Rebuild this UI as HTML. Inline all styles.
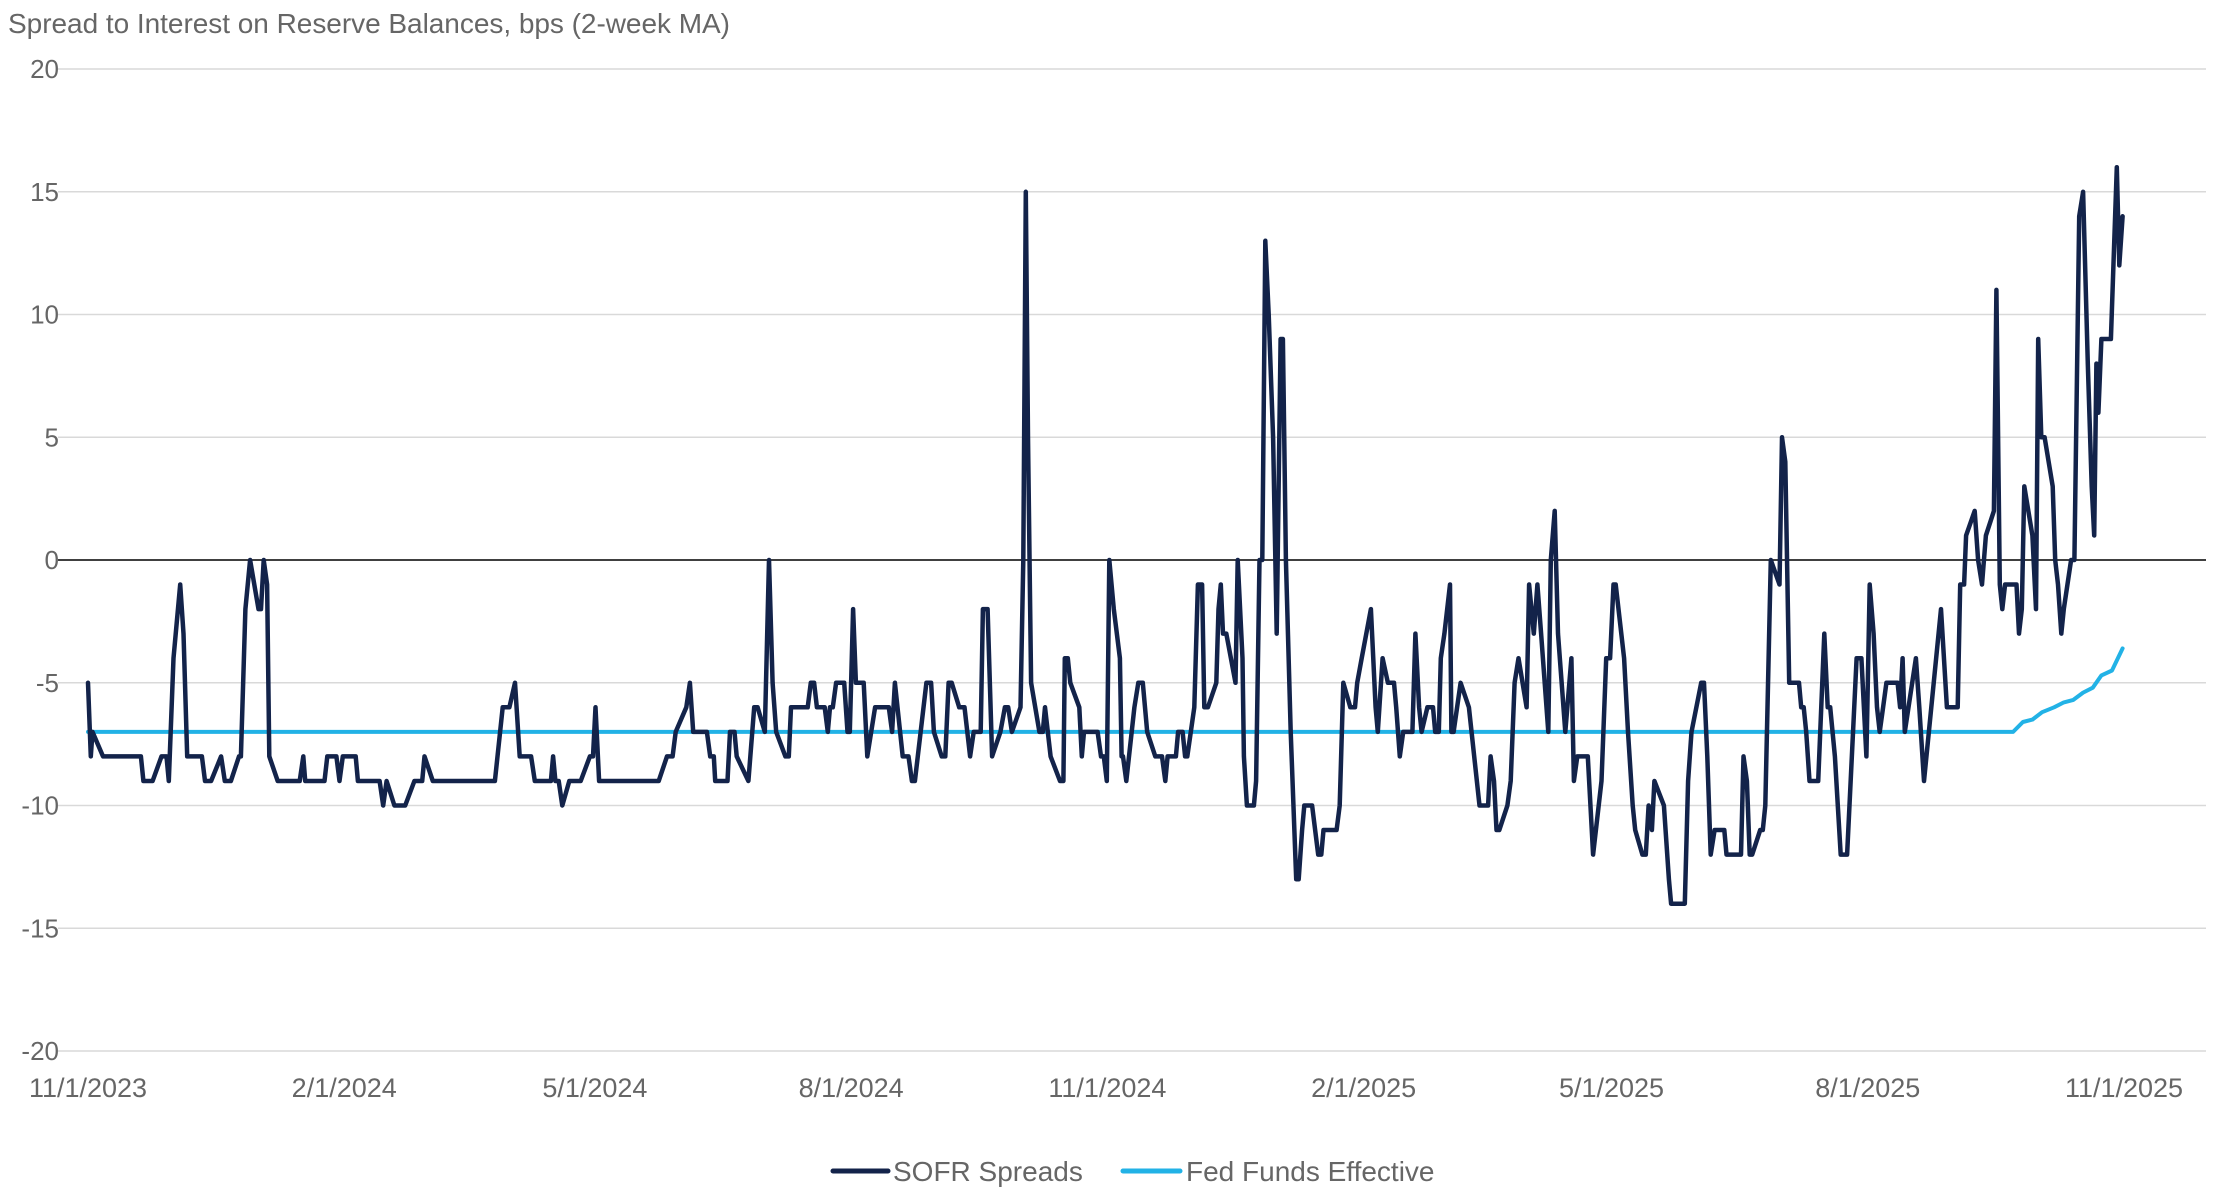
<!DOCTYPE html>
<html><head><meta charset="utf-8"><style>
html,body{margin:0;padding:0;background:#fff;}
body{width:2217px;height:1196px;overflow:hidden;font-family:"Liberation Sans",sans-serif;}
svg text{font-family:"Liberation Sans",sans-serif;fill:#666;}
</style></head><body>
<svg id="chart" width="2217" height="1196" viewBox="0 0 2217 1196" xmlns="http://www.w3.org/2000/svg">
<text x="8" y="33" font-size="28" textLength="722">Spread to Interest on Reserve Balances, bps (2-week MA)</text>
<g id="grid"></g>
<g id="yticks"></g>
<g id="xticks"></g>
<g id="series"></g>
<g>
<g>
<line x1="833" y1="1171" x2="888" y2="1171" stroke="#13234a" stroke-width="5" stroke-linecap="round"/>
<text x="893" y="1181" font-size="28">SOFR Spreads</text></g>
<g>
<line x1="1123" y1="1171" x2="1180" y2="1171" stroke="#22b2e6" stroke-width="5" stroke-linecap="round"/>
<text x="1186" y="1181" font-size="28">Fed Funds Effective</text></g>
</g>
</svg>
<script>
// Data (days since 2023-11-01, bps)
const yTicks = [20,15,10,5,0,-5,-10,-15,-20];
const xTickLabels = ["11/1/2023","2/1/2024","5/1/2024","8/1/2024","11/1/2024","2/1/2025","5/1/2025","8/1/2025","11/1/2025"];
const xTickDays = [0,92,182,274,366,458,547,639,731];
const sofrDays = [0,1,1.6,5.4,19,19.9,23.2,26.4,28.2,29,30.7,33.1,34.3,35.6,40.9,42,44.2,47.8,49.1,51.3,54.2,54.9,56.5,58.2,61.2,62.1,63.1,64.3,65.1,68.1,76,77.3,78,84.9,85.9,89.2,90.3,91.5,96.1,96.9,104.7,106,107.2,110,113.9,117.2,120,120.8,123.8,146.1,148.9,151.3,153.3,155,159.1,160.4,166.2,167,167.8,169,170.3,172.8,176.9,180.2,181.3,182.2,183.5,204.9,207.9,209.9,211,214.8,216.1,217.3,222.2,223.4,224.7,225.2,229.6,230.5,232.1,232.9,237.1,239.2,240.4,
243,244.5,245.8,247.1,250.4,251.6,252.4,258.4,259.5,260.7,261.7,264.5,265.6,266.4,267.4,268.6,271.5,272.7,273.5,274.7,275.7,278.5,279.8,282.6,287.5,288.7,289.7,292.5,294.6,295.8,296.9,301,302.7,303.7,306.5,307.8,309,310.1,312.8,314.7,316.7,318,320.5,321.3,323,324.6,327.6,329.2,330.4,331.7,334.8,335.8,336.7,337.5,338.6,341.6,342.8,343.6,345.6,349,350.2,350.7,351.8,352.7,355.9,356.8,357.6,362.5,363.7,364.7,365.8,366.7,368.3,370.5,371.1,371.6,372.8,375.7,377.1,378.7,380.3,383.2,385.6,386.8,387.6,390.6,391.4,393,393.9,394.7,397.2,398.5,400,400.8,402.1,405.1,405.9,406.7,407.5,408.7,412,412.8,414.5,415,416.1,418.6,419.4,420.6,421.6,422.7,423.9,425.5,426.8,428.2,429,430.1,431.8,433.8,434.7,435.9,436.7,439.5,441.7,442.8,443.6,448.3,449.4,450.7,453.2,454.9,455.7,457.3,460.6,462.3,463.1,464.8,466.7,468.9,469.7,471,472.2,475.5,476.6,477.9,478.8,480.9,482.9,483.7,485,485.7,487,489,489.5,490.3,492.8,
495.8,499.6,502.7,503.6,504.8,505.7,506.7,509.6,510.8,512.2,513.6,516.5,517.4,519.1,520.4,521.7,524.3,525.2,526.6,527.8,530.4,532.6,533.5,534.7,538.5,540.4,543.4,545.1,546.5,547.7,548.5,551.5,552.9,554.6,555.5,558.1,559.3,560.3,561.5,562.4,565.8,567.6,568.4,573.3,574.5,575.7,579.2,580.2,581.4,582.6,584,587.5,588.3,593.5,594.4,595.6,596.6,597.5,600.4,601.3,602.2,604.2,607.3,608.2,609.4,610.8,614.3,615.1,616,616.9,618.1,621.2,623.4,624.6,625.5,627.2,629.3,631.6,635,636.7,638.5,639.7,641.1,642.3,643.3,644.5,645.7,649.7,650.6,651.5,652.3,656.3,657.5,659.2,661.8,665.3,667.4,671.3,672.2,673.6,674.3,677.4,678.6,680,681.4,684.3,685.2,686.4,687.3,688.3,692.4,693.3,694.3,695.2,698.1,699.4,700.2,701.3,702.5,705.4,706.3,707.3,708.5,709.4,712,713.2,714.9,716.3,718,719.4,720.3,721.1,721.8,722.9,726.3,728.4,729.3,730.5];
const sofrValues = [-5,-8,-7,-8,-8,-9,-9,-8,-8,-9,-4,-1,-3,-8,-8,-9,-9,-8,-9,-9,-8,-8,-2,0,-2,-2,0,-1,-8,-9,-9,-8,-9,-9,-8,-8,-9,-8,-8,-9,-9,-10,-9,-10,-10,-9,-9,-8,-9,-9,-6,-6,-5,-8,-8,-9,-9,-8,-9,-9,-10,-9,-9,-8,-8,-6,-9,-9,-8,-8,-7,-6,-5,-7,-7,-8,-8,-9,-9,-7,-7,-8,-9,-6,-6,
-7,0,-5,-7,-8,-8,-6,-6,-5,-5,-6,-6,-7,-6,-6,-5,-5,-7,-7,-2,-5,-5,-8,-6,-6,-7,-5,-8,-8,-9,-9,-5,-5,-7,-8,-8,-5,-5,-6,-6,-8,-7,-7,-2,-2,-8,-7,-6,-6,-7,-6,0,15,5,-5,-7,-7,-6,-8,-9,-9,-4,-4,-5,-6,-8,-7,-7,-8,-8,-9,0,-2,-4,-8,-8,-9,-6,-5,-5,-7,-8,-8,-9,-8,-8,-7,-7,-8,-8,-6,-1,-1,-6,-6,-5,-2,-1,-3,-3,-5,0,-4,-8,-10,-10,-9,0,0,13,10,5,-3,9,9,0,-7,-13,-13,-11,-10,-10,-12,-12,-11,-11,-10,-5,-6,-6,-5,-4,-2,-6,-7,-4,-5,-5,-6,-8,-7,-7,-3,-6,-7,-6,-6,-7,-7,-4,-3,-1,-7,-7,-5,
-6,-10,-10,-8,-9,-11,-11,-10,-9,-5,-4,-6,-1,-3,-1,-3,-7,0,2,-3,-7,-4,-9,-8,-8,-12,-9,-4,-4,-1,-1,-4,-7,-10,-11,-12,-12,-10,-11,-9,-10,-13,-14,-14,-9,-7,-5,-5,-8,-12,-11,-11,-12,-12,-8,-9,-12,-12,-11,-11,-10,0,-1,5,4,-5,-5,-6,-6,-7,-9,-9,-3,-6,-6,-8,-12,-12,-4,-4,-8,-1,-3,-6,-7,-6,-5,-5,-6,-4,-7,-4,-6,-9,-6,-2,-6,-6,-1,-1,1,2,0,-1,1,2,11,-1,-2,-1,-1,-3,-2,3,1,-2,9,5,5,3,0,-1,-3,-2,0,0,14,15,8,3,1,8,6,9,9,16,12,14];
const fedDays = [0,691.2,694.7,698.1,701.6,705.9,709.4,712.8,716.3,719.8,722.9,726.7,730.5];
const fedValues = [-7,-7,-6.6,-6.5,-6.2,-6.0,-5.8,-5.7,-5.4,-5.2,-4.7,-4.5,-3.6];

const NS="http://www.w3.org/2000/svg";
const X0=88, X1=2124, DMAX=731, Y0=560, PERUNIT=24.55;
function xScale(d){return X0+(X1-X0)*d/DMAX;}
function yScale(v){return Y0-v*PERUNIT;}
function mk(tag,attrs,parent){const e=document.createElementNS(NS,tag);for(const k in attrs)e.setAttribute(k,attrs[k]);parent.appendChild(e);return e;}

const grid=document.getElementById('grid'), yt=document.getElementById('yticks'), xt=document.getElementById('xticks'), ser=document.getElementById('series');
yTicks.forEach(v=>{
  const l=mk('line',{x1:58,x2:2206,y1:yScale(v),y2:yScale(v),stroke:v===0?'#000':'#d9d9d9','stroke-width':1.5},grid);
  
  
  const t=mk('text',{x:59,y:yScale(v)+9,'text-anchor':'end','font-size':26},yt);
  t.textContent=String(v);
  
  
});
xTickLabels.forEach((lab,i)=>{
  const t=mk('text',{x:xScale(xTickDays[i]),y:1097,'text-anchor':'middle','font-size':27},xt);
  t.textContent=lab;
  
  
});
function path(days,vals,color,w,name){
  let d='';
  days.forEach((dd,i)=>{d+=(i?'L':'M')+xScale(dd).toFixed(1)+','+yScale(vals[i]).toFixed(1);});
  const p=mk('path',{d:d,fill:'none',stroke:color,'stroke-width':w,'stroke-linejoin':'round','stroke-linecap':'round'},ser);
  
  
}
path(fedDays,fedValues,'#22b2e6',4,'fed-funds-line');
path(sofrDays,sofrValues,'#13234a',4.5,'sofr-spreads-line');
</script>
</body></html>
